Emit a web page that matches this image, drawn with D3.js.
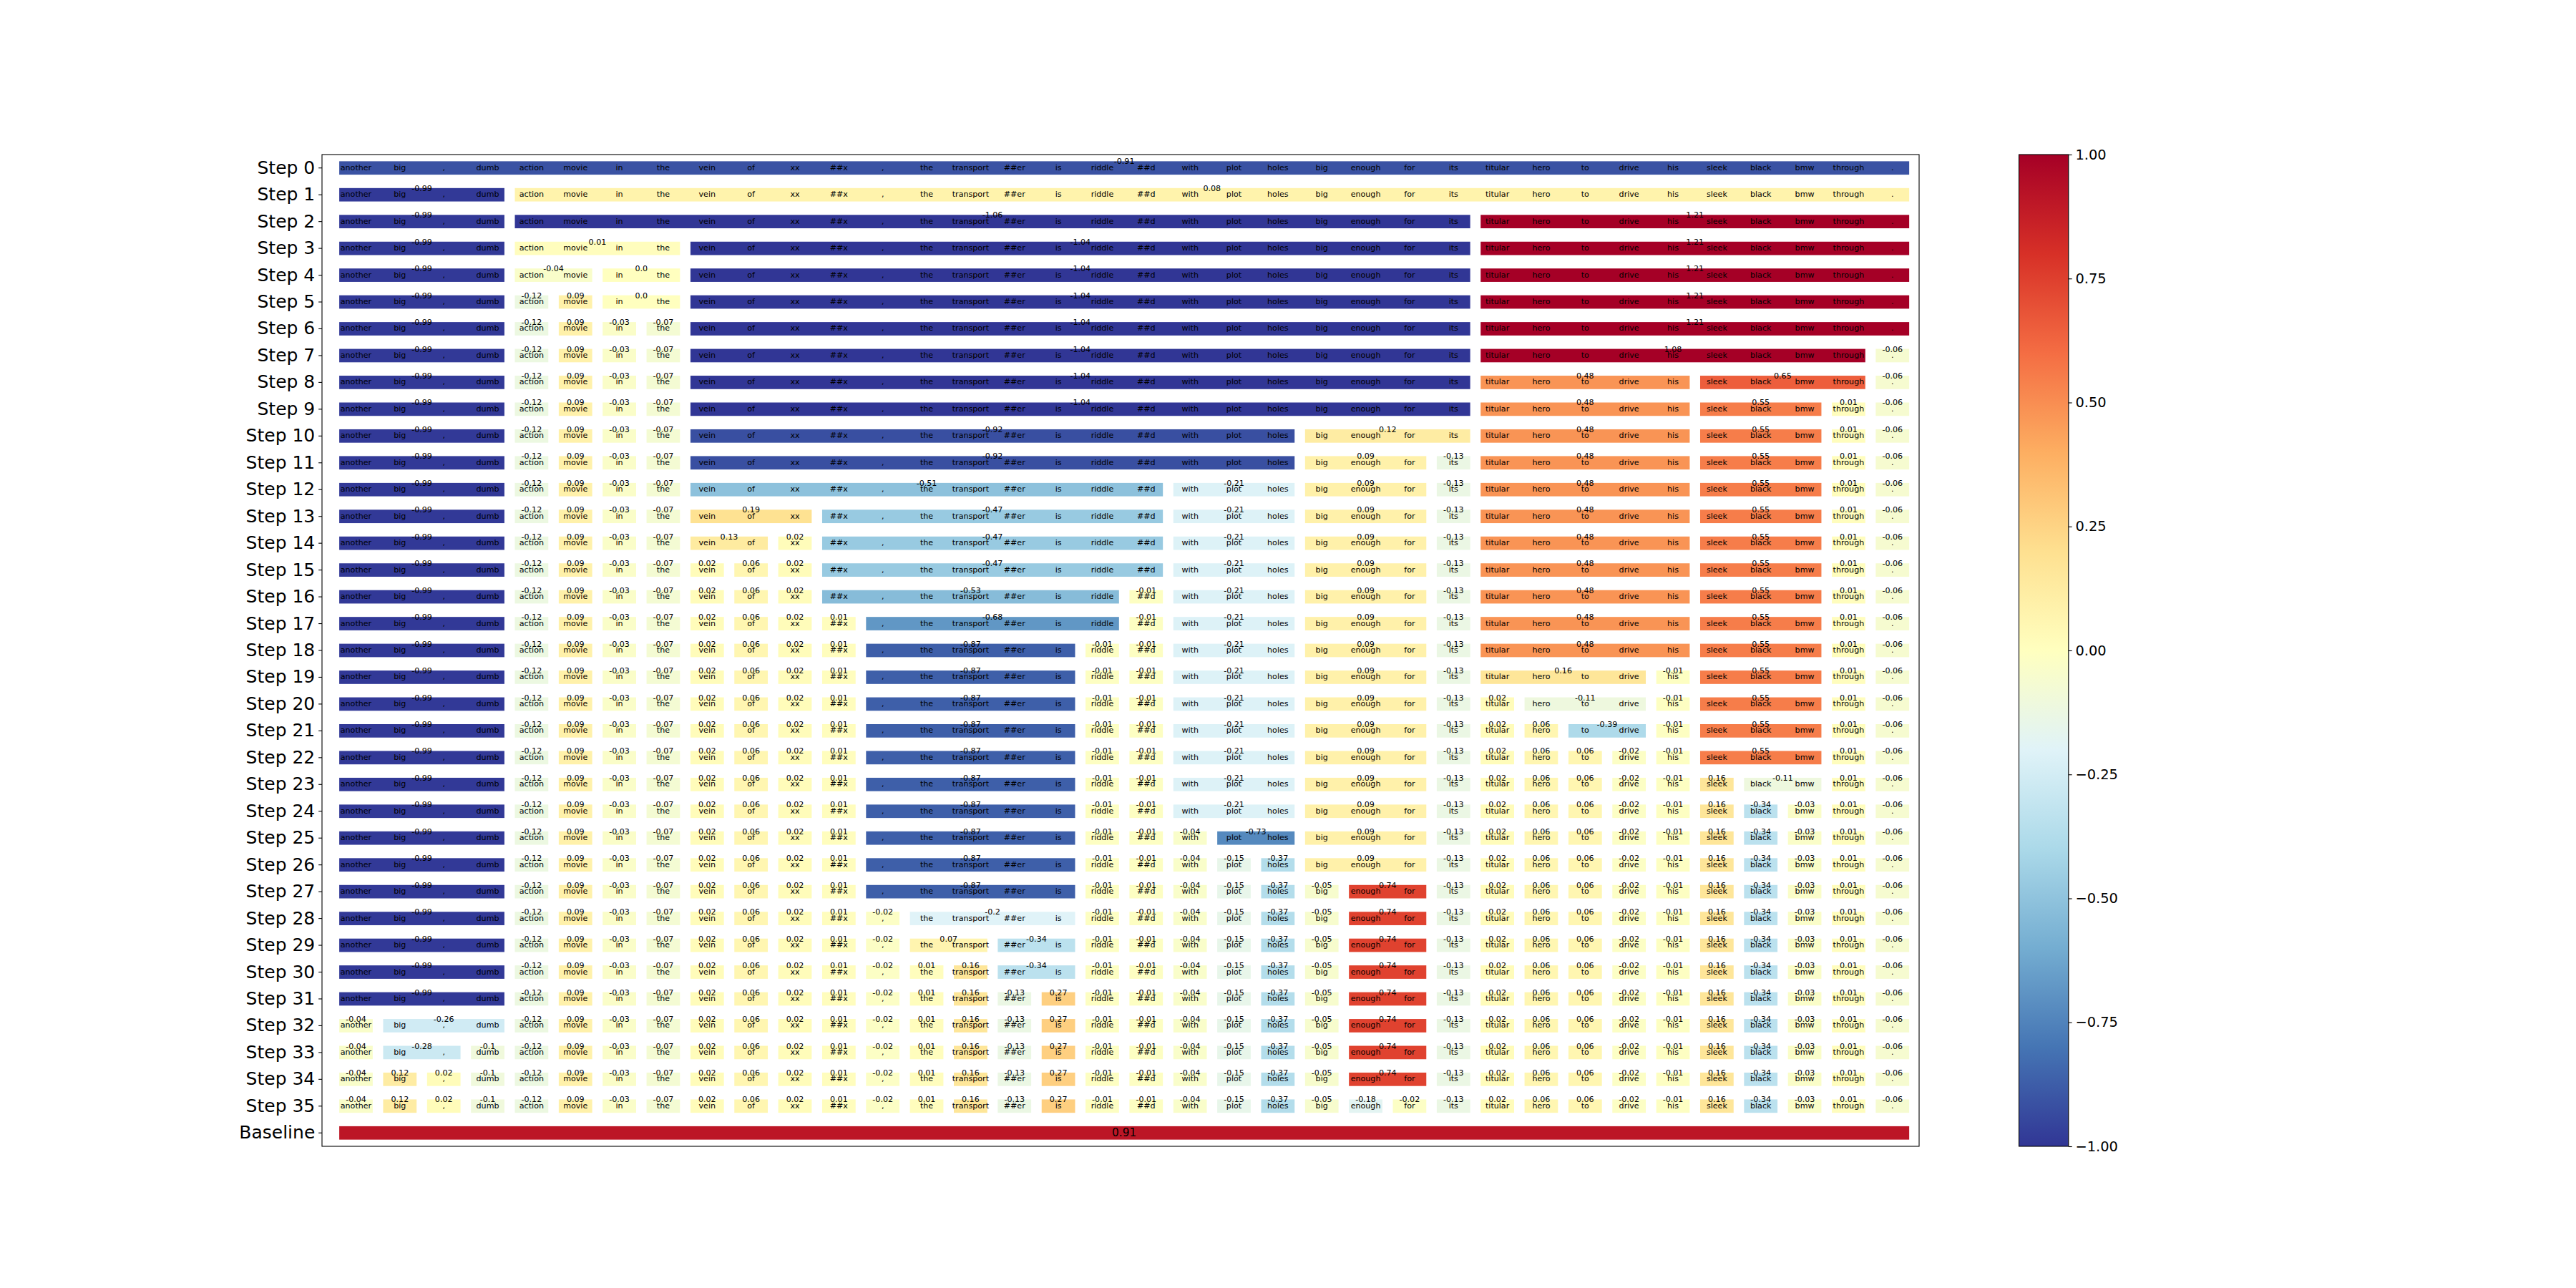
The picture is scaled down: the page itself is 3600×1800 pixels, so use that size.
<!DOCTYPE html>
<html><head><meta charset="utf-8">
<script src="https://cdn.jsdelivr.net/npm/d3@7"></script>
<style>body{margin:0;background:#fff} text{font-family:"DejaVu Sans",sans-serif}</style>
</head><body>
<svg id="chart" width="3600" height="1800"></svg>
<script>
const tokens = ["another","big",",","dumb","action","movie","in","the","vein","of","xx","##x",",","the","transport","##er","is","riddle","##d","with","plot","holes","big","enough","for","its","titular","hero","to","drive","his","sleek","black","bmw","through","."];

const rowLabels = ["Step 0","Step 1","Step 2","Step 3","Step 4","Step 5","Step 6","Step 7","Step 8","Step 9","Step 10","Step 11","Step 12","Step 13","Step 14","Step 15","Step 16","Step 17","Step 18","Step 19","Step 20","Step 21","Step 22","Step 23","Step 24","Step 25","Step 26","Step 27","Step 28","Step 29","Step 30","Step 31","Step 32","Step 33","Step 34","Step 35","Baseline"];

// segments per step: [firstToken, lastToken, value]
const stepSegments = [
 [[0,35,-0.91]],
 [[0,3,-0.99],[4,35,0.08]],
 [[0,3,-0.99],[4,25,-1.06],[26,35,1.21]],
 [[0,3,-0.99],[4,7,0.01],[8,25,-1.04],[26,35,1.21]],
 [[0,3,-0.99],[4,5,-0.04],[6,7,0.0],[8,25,-1.04],[26,35,1.21]],
 [[0,3,-0.99],[4,4,-0.12],[5,5,0.09],[6,7,0.0],[8,25,-1.04],[26,35,1.21]],
 [[0,3,-0.99],[4,4,-0.12],[5,5,0.09],[6,6,-0.03],[7,7,-0.07],[8,25,-1.04],[26,35,1.21]],
 [[0,3,-0.99],[4,4,-0.12],[5,5,0.09],[6,6,-0.03],[7,7,-0.07],[8,25,-1.04],[26,34,1.08],[35,35,-0.06]],
 [[0,3,-0.99],[4,4,-0.12],[5,5,0.09],[6,6,-0.03],[7,7,-0.07],[8,25,-1.04],[26,30,0.48],[31,34,0.65],[35,35,-0.06]],
 [[0,3,-0.99],[4,4,-0.12],[5,5,0.09],[6,6,-0.03],[7,7,-0.07],[8,25,-1.04],[26,30,0.48],[31,33,0.55],[34,34,0.01],[35,35,-0.06]],
 [[0,3,-0.99],[4,4,-0.12],[5,5,0.09],[6,6,-0.03],[7,7,-0.07],[8,21,-0.92],[22,25,0.12],[26,30,0.48],[31,33,0.55],[34,34,0.01],[35,35,-0.06]],
 [[0,3,-0.99],[4,4,-0.12],[5,5,0.09],[6,6,-0.03],[7,7,-0.07],[8,21,-0.92],[22,24,0.09],[25,25,-0.13],[26,30,0.48],[31,33,0.55],[34,34,0.01],[35,35,-0.06]],
 [[0,3,-0.99],[4,4,-0.12],[5,5,0.09],[6,6,-0.03],[7,7,-0.07],[8,18,-0.51],[19,21,-0.21],[22,24,0.09],[25,25,-0.13],[26,30,0.48],[31,33,0.55],[34,34,0.01],[35,35,-0.06]],
 [[0,3,-0.99],[4,4,-0.12],[5,5,0.09],[6,6,-0.03],[7,7,-0.07],[8,10,0.19],[11,18,-0.47],[19,21,-0.21],[22,24,0.09],[25,25,-0.13],[26,30,0.48],[31,33,0.55],[34,34,0.01],[35,35,-0.06]],
 [[0,3,-0.99],[4,4,-0.12],[5,5,0.09],[6,6,-0.03],[7,7,-0.07],[8,9,0.13],[10,10,0.02],[11,18,-0.47],[19,21,-0.21],[22,24,0.09],[25,25,-0.13],[26,30,0.48],[31,33,0.55],[34,34,0.01],[35,35,-0.06]],
 [[0,3,-0.99],[4,4,-0.12],[5,5,0.09],[6,6,-0.03],[7,7,-0.07],[8,8,0.02],[9,9,0.06],[10,10,0.02],[11,18,-0.47],[19,21,-0.21],[22,24,0.09],[25,25,-0.13],[26,30,0.48],[31,33,0.55],[34,34,0.01],[35,35,-0.06]],
 [[0,3,-0.99],[4,4,-0.12],[5,5,0.09],[6,6,-0.03],[7,7,-0.07],[8,8,0.02],[9,9,0.06],[10,10,0.02],[11,17,-0.53],[18,18,-0.01],[19,21,-0.21],[22,24,0.09],[25,25,-0.13],[26,30,0.48],[31,33,0.55],[34,34,0.01],[35,35,-0.06]],
 [[0,3,-0.99],[4,4,-0.12],[5,5,0.09],[6,6,-0.03],[7,7,-0.07],[8,8,0.02],[9,9,0.06],[10,10,0.02],[11,11,0.01],[12,17,-0.68],[18,18,-0.01],[19,21,-0.21],[22,24,0.09],[25,25,-0.13],[26,30,0.48],[31,33,0.55],[34,34,0.01],[35,35,-0.06]],
 [[0,3,-0.99],[4,4,-0.12],[5,5,0.09],[6,6,-0.03],[7,7,-0.07],[8,8,0.02],[9,9,0.06],[10,10,0.02],[11,11,0.01],[12,16,-0.87],[17,17,-0.01],[18,18,-0.01],[19,21,-0.21],[22,24,0.09],[25,25,-0.13],[26,30,0.48],[31,33,0.55],[34,34,0.01],[35,35,-0.06]],
 [[0,3,-0.99],[4,4,-0.12],[5,5,0.09],[6,6,-0.03],[7,7,-0.07],[8,8,0.02],[9,9,0.06],[10,10,0.02],[11,11,0.01],[12,16,-0.87],[17,17,-0.01],[18,18,-0.01],[19,21,-0.21],[22,24,0.09],[25,25,-0.13],[26,29,0.16],[30,30,-0.01],[31,33,0.55],[34,34,0.01],[35,35,-0.06]],
 [[0,3,-0.99],[4,4,-0.12],[5,5,0.09],[6,6,-0.03],[7,7,-0.07],[8,8,0.02],[9,9,0.06],[10,10,0.02],[11,11,0.01],[12,16,-0.87],[17,17,-0.01],[18,18,-0.01],[19,21,-0.21],[22,24,0.09],[25,25,-0.13],[26,26,0.02],[27,29,-0.11],[30,30,-0.01],[31,33,0.55],[34,34,0.01],[35,35,-0.06]],
 [[0,3,-0.99],[4,4,-0.12],[5,5,0.09],[6,6,-0.03],[7,7,-0.07],[8,8,0.02],[9,9,0.06],[10,10,0.02],[11,11,0.01],[12,16,-0.87],[17,17,-0.01],[18,18,-0.01],[19,21,-0.21],[22,24,0.09],[25,25,-0.13],[26,26,0.02],[27,27,0.06],[28,29,-0.39],[30,30,-0.01],[31,33,0.55],[34,34,0.01],[35,35,-0.06]],
 [[0,3,-0.99],[4,4,-0.12],[5,5,0.09],[6,6,-0.03],[7,7,-0.07],[8,8,0.02],[9,9,0.06],[10,10,0.02],[11,11,0.01],[12,16,-0.87],[17,17,-0.01],[18,18,-0.01],[19,21,-0.21],[22,24,0.09],[25,25,-0.13],[26,26,0.02],[27,27,0.06],[28,28,0.06],[29,29,-0.02],[30,30,-0.01],[31,33,0.55],[34,34,0.01],[35,35,-0.06]],
 [[0,3,-0.99],[4,4,-0.12],[5,5,0.09],[6,6,-0.03],[7,7,-0.07],[8,8,0.02],[9,9,0.06],[10,10,0.02],[11,11,0.01],[12,16,-0.87],[17,17,-0.01],[18,18,-0.01],[19,21,-0.21],[22,24,0.09],[25,25,-0.13],[26,26,0.02],[27,27,0.06],[28,28,0.06],[29,29,-0.02],[30,30,-0.01],[31,31,0.16],[32,33,-0.11],[34,34,0.01],[35,35,-0.06]],
 [[0,3,-0.99],[4,4,-0.12],[5,5,0.09],[6,6,-0.03],[7,7,-0.07],[8,8,0.02],[9,9,0.06],[10,10,0.02],[11,11,0.01],[12,16,-0.87],[17,17,-0.01],[18,18,-0.01],[19,21,-0.21],[22,24,0.09],[25,25,-0.13],[26,26,0.02],[27,27,0.06],[28,28,0.06],[29,29,-0.02],[30,30,-0.01],[31,31,0.16],[32,32,-0.34],[33,33,-0.03],[34,34,0.01],[35,35,-0.06]],
 [[0,3,-0.99],[4,4,-0.12],[5,5,0.09],[6,6,-0.03],[7,7,-0.07],[8,8,0.02],[9,9,0.06],[10,10,0.02],[11,11,0.01],[12,16,-0.87],[17,17,-0.01],[18,18,-0.01],[19,19,-0.04],[20,21,-0.73],[22,24,0.09],[25,25,-0.13],[26,26,0.02],[27,27,0.06],[28,28,0.06],[29,29,-0.02],[30,30,-0.01],[31,31,0.16],[32,32,-0.34],[33,33,-0.03],[34,34,0.01],[35,35,-0.06]],
 [[0,3,-0.99],[4,4,-0.12],[5,5,0.09],[6,6,-0.03],[7,7,-0.07],[8,8,0.02],[9,9,0.06],[10,10,0.02],[11,11,0.01],[12,16,-0.87],[17,17,-0.01],[18,18,-0.01],[19,19,-0.04],[20,20,-0.15],[21,21,-0.37],[22,24,0.09],[25,25,-0.13],[26,26,0.02],[27,27,0.06],[28,28,0.06],[29,29,-0.02],[30,30,-0.01],[31,31,0.16],[32,32,-0.34],[33,33,-0.03],[34,34,0.01],[35,35,-0.06]],
 [[0,3,-0.99],[4,4,-0.12],[5,5,0.09],[6,6,-0.03],[7,7,-0.07],[8,8,0.02],[9,9,0.06],[10,10,0.02],[11,11,0.01],[12,16,-0.87],[17,17,-0.01],[18,18,-0.01],[19,19,-0.04],[20,20,-0.15],[21,21,-0.37],[22,22,-0.05],[23,24,0.74],[25,25,-0.13],[26,26,0.02],[27,27,0.06],[28,28,0.06],[29,29,-0.02],[30,30,-0.01],[31,31,0.16],[32,32,-0.34],[33,33,-0.03],[34,34,0.01],[35,35,-0.06]],
 [[0,3,-0.99],[4,4,-0.12],[5,5,0.09],[6,6,-0.03],[7,7,-0.07],[8,8,0.02],[9,9,0.06],[10,10,0.02],[11,11,0.01],[12,12,-0.02],[13,16,-0.2],[17,17,-0.01],[18,18,-0.01],[19,19,-0.04],[20,20,-0.15],[21,21,-0.37],[22,22,-0.05],[23,24,0.74],[25,25,-0.13],[26,26,0.02],[27,27,0.06],[28,28,0.06],[29,29,-0.02],[30,30,-0.01],[31,31,0.16],[32,32,-0.34],[33,33,-0.03],[34,34,0.01],[35,35,-0.06]],
 [[0,3,-0.99],[4,4,-0.12],[5,5,0.09],[6,6,-0.03],[7,7,-0.07],[8,8,0.02],[9,9,0.06],[10,10,0.02],[11,11,0.01],[12,12,-0.02],[13,14,0.07],[15,16,-0.34],[17,17,-0.01],[18,18,-0.01],[19,19,-0.04],[20,20,-0.15],[21,21,-0.37],[22,22,-0.05],[23,24,0.74],[25,25,-0.13],[26,26,0.02],[27,27,0.06],[28,28,0.06],[29,29,-0.02],[30,30,-0.01],[31,31,0.16],[32,32,-0.34],[33,33,-0.03],[34,34,0.01],[35,35,-0.06]],
 [[0,3,-0.99],[4,4,-0.12],[5,5,0.09],[6,6,-0.03],[7,7,-0.07],[8,8,0.02],[9,9,0.06],[10,10,0.02],[11,11,0.01],[12,12,-0.02],[13,13,0.01],[14,14,0.16],[15,16,-0.34],[17,17,-0.01],[18,18,-0.01],[19,19,-0.04],[20,20,-0.15],[21,21,-0.37],[22,22,-0.05],[23,24,0.74],[25,25,-0.13],[26,26,0.02],[27,27,0.06],[28,28,0.06],[29,29,-0.02],[30,30,-0.01],[31,31,0.16],[32,32,-0.34],[33,33,-0.03],[34,34,0.01],[35,35,-0.06]],
 [[0,3,-0.99],[4,4,-0.12],[5,5,0.09],[6,6,-0.03],[7,7,-0.07],[8,8,0.02],[9,9,0.06],[10,10,0.02],[11,11,0.01],[12,12,-0.02],[13,13,0.01],[14,14,0.16],[15,15,-0.13],[16,16,0.27],[17,17,-0.01],[18,18,-0.01],[19,19,-0.04],[20,20,-0.15],[21,21,-0.37],[22,22,-0.05],[23,24,0.74],[25,25,-0.13],[26,26,0.02],[27,27,0.06],[28,28,0.06],[29,29,-0.02],[30,30,-0.01],[31,31,0.16],[32,32,-0.34],[33,33,-0.03],[34,34,0.01],[35,35,-0.06]],
 [[0,0,-0.04],[1,3,-0.26],[4,4,-0.12],[5,5,0.09],[6,6,-0.03],[7,7,-0.07],[8,8,0.02],[9,9,0.06],[10,10,0.02],[11,11,0.01],[12,12,-0.02],[13,13,0.01],[14,14,0.16],[15,15,-0.13],[16,16,0.27],[17,17,-0.01],[18,18,-0.01],[19,19,-0.04],[20,20,-0.15],[21,21,-0.37],[22,22,-0.05],[23,24,0.74],[25,25,-0.13],[26,26,0.02],[27,27,0.06],[28,28,0.06],[29,29,-0.02],[30,30,-0.01],[31,31,0.16],[32,32,-0.34],[33,33,-0.03],[34,34,0.01],[35,35,-0.06]],
 [[0,0,-0.04],[1,2,-0.28],[3,3,-0.1],[4,4,-0.12],[5,5,0.09],[6,6,-0.03],[7,7,-0.07],[8,8,0.02],[9,9,0.06],[10,10,0.02],[11,11,0.01],[12,12,-0.02],[13,13,0.01],[14,14,0.16],[15,15,-0.13],[16,16,0.27],[17,17,-0.01],[18,18,-0.01],[19,19,-0.04],[20,20,-0.15],[21,21,-0.37],[22,22,-0.05],[23,24,0.74],[25,25,-0.13],[26,26,0.02],[27,27,0.06],[28,28,0.06],[29,29,-0.02],[30,30,-0.01],[31,31,0.16],[32,32,-0.34],[33,33,-0.03],[34,34,0.01],[35,35,-0.06]],
 [[0,0,-0.04],[1,1,0.12],[2,2,0.02],[3,3,-0.1],[4,4,-0.12],[5,5,0.09],[6,6,-0.03],[7,7,-0.07],[8,8,0.02],[9,9,0.06],[10,10,0.02],[11,11,0.01],[12,12,-0.02],[13,13,0.01],[14,14,0.16],[15,15,-0.13],[16,16,0.27],[17,17,-0.01],[18,18,-0.01],[19,19,-0.04],[20,20,-0.15],[21,21,-0.37],[22,22,-0.05],[23,24,0.74],[25,25,-0.13],[26,26,0.02],[27,27,0.06],[28,28,0.06],[29,29,-0.02],[30,30,-0.01],[31,31,0.16],[32,32,-0.34],[33,33,-0.03],[34,34,0.01],[35,35,-0.06]],
 [[0,0,-0.04],[1,1,0.12],[2,2,0.02],[3,3,-0.1],[4,4,-0.12],[5,5,0.09],[6,6,-0.03],[7,7,-0.07],[8,8,0.02],[9,9,0.06],[10,10,0.02],[11,11,0.01],[12,12,-0.02],[13,13,0.01],[14,14,0.16],[15,15,-0.13],[16,16,0.27],[17,17,-0.01],[18,18,-0.01],[19,19,-0.04],[20,20,-0.15],[21,21,-0.37],[22,22,-0.05],[23,23,-0.18],[24,24,-0.02],[25,25,-0.13],[26,26,0.02],[27,27,0.06],[28,28,0.06],[29,29,-0.02],[30,30,-0.01],[31,31,0.16],[32,32,-0.34],[33,33,-0.03],[34,34,0.01],[35,35,-0.06]]
];
const baselineSegments = [[0,35,0.91]];

const cmapStops = [-1,-0.8,-0.6,-0.4,-0.2,0,0.2,0.4,0.6,0.8,1];
const cmapColors = ["#313695","#4575b4","#74add1","#abd9e9","#e0f3f8","#ffffbf","#fee090","#fdae61","#f46d43","#d73027","#a50026"];
const cbarTicks = [-1,-0.75,-0.5,-0.25,0,0.25,0.5,0.75,1];

// ---- layout ----
const W = 3600, H = 1800;
const ax = {left:450, right:2682, top:216, bottom:1602};
const cb = {left:2821.5, right:2890.8, top:216, bottom:1602};
const halfBox = 0.381;

const svg = d3.select("#chart");
svg.append("rect").attr("width",W).attr("height",H).attr("fill","#fff");

const x = d3.scaleLinear().domain([-0.774, 35.607]).range([ax.left, ax.right]);
const y = d3.scaleBand().domain(rowLabels).range([ax.top, ax.bottom]).padding(0);
const bw = y.bandwidth();
const barH = bw*0.5;
const color = d3.scaleLinear().domain(cmapStops).range(cmapColors).interpolate(d3.interpolateRgb).clamp(true);
const fmt = v => Number.isInteger(v) ? v.toFixed(1) : String(v);

const rows = stepSegments.map((segs,i)=>({label:rowLabels[i], segs, showTokens:true}));
rows.push({label:"Baseline", segs:baselineSegments, showTokens:false});

const g = svg.append("g");
rows.forEach(r=>{
  const top = y(r.label) + (bw-barH)/2;
  const cy = y(r.label) + bw/2;
  const rg = g.append("g");
  rg.selectAll("rect").data(r.segs).join("rect")
    .attr("x", d=>x(d[0]-halfBox))
    .attr("width", d=>x(d[1]+halfBox)-x(d[0]-halfBox))
    .attr("y", top).attr("height", barH)
    .attr("fill", d=>color(d[2]));
  if (r.showTokens) {
    rg.selectAll("text.tok").data(tokens).join("text").attr("class","tok")
      .attr("x",(d,i)=>x(i)).attr("y",cy).attr("dy","0.27em")
      .attr("text-anchor","middle").attr("font-size",11.1).attr("fill","#000")
      .text(d=>d);
    rg.selectAll("text.val").data(r.segs).join("text").attr("class","val")
      .attr("x",d=>x((d[0]+d[1])/2)).attr("y",top+1).attr("dy","0.27em")
      .attr("text-anchor","middle").attr("font-size",11.1).attr("fill","#000")
      .text(d=>fmt(d[2]));
  } else {
    rg.selectAll("text.val").data(r.segs).join("text").attr("class","val")
      .attr("x",d=>x((d[0]+d[1])/2)).attr("y",cy).attr("dy","0.3em")
      .attr("text-anchor","middle").attr("font-size",15.3).attr("fill","#000")
      .text(d=>fmt(d[2]));
  }
});

// frame
svg.append("rect").attr("x",ax.left).attr("y",ax.top).attr("width",ax.right-ax.left).attr("height",ax.bottom-ax.top)
  .attr("fill","none").attr("stroke","#000").attr("stroke-width",1.1);

// y axis
const yAxis = svg.append("g").attr("transform",`translate(${ax.left},0)`)
  .call(d3.axisLeft(y).tickSize(4.86).tickPadding(4.86));
yAxis.select(".domain").remove();
yAxis.selectAll("line").attr("stroke","#000").attr("stroke-width",1.1);
yAxis.selectAll("text").attr("font-size",25).attr("font-family","DejaVu Sans").attr("fill","#000");

// colorbar
const defs = svg.append("defs");
const grad = defs.append("linearGradient").attr("id","cbg").attr("x1",0).attr("y1",1).attr("x2",0).attr("y2",0);
cmapStops.forEach((s,i)=>grad.append("stop").attr("offset",(s+1)/2).attr("stop-color",cmapColors[i]));
svg.append("rect").attr("x",cb.left).attr("y",cb.top).attr("width",cb.right-cb.left).attr("height",cb.bottom-cb.top)
  .attr("fill","url(#cbg)");
const cy2 = d3.scaleLinear().domain([-1,1]).range([cb.bottom, cb.top]);
const cAxis = svg.append("g").attr("transform",`translate(${cb.right},0)`)
  .call(d3.axisRight(cy2).tickValues(cbarTicks).tickFormat(d3.format(".2f")).tickSize(4.86).tickPadding(4.86));
cAxis.select(".domain").remove();
cAxis.selectAll("line").attr("stroke","#000").attr("stroke-width",1.1);
cAxis.selectAll("text").attr("font-size",19.4).attr("font-family","DejaVu Sans").attr("fill","#000");
svg.append("rect").attr("x",cb.left).attr("y",cb.top).attr("width",cb.right-cb.left).attr("height",cb.bottom-cb.top)
  .attr("fill","none").attr("stroke","#000").attr("stroke-width",1.1);
</script>
</body></html>
